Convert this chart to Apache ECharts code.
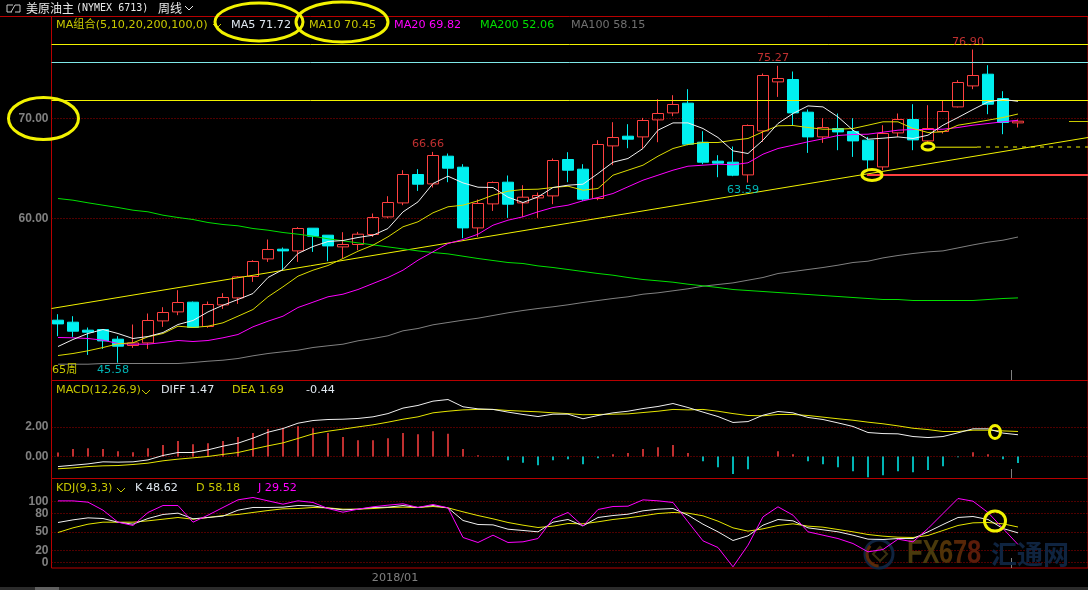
<!DOCTYPE html>
<html lang="zh-CN">
<head>
  <meta charset="UTF-8">
  <title>美原油主 周线</title>
  <script src="https://cdn.jsdelivr.net/npm/echarts@6/dist/echarts.min.js"></script>
  <style>
    html, body { margin: 0; padding: 0; background: #000; overflow: hidden; }
    #main { width: 1088px; height: 590px; }
  </style>
</head>
<body>
<div id="main"></div>
<script>
  // open, close, low, high
  var candles = [
    [49.83,49.46,48.23,50.43],[49.63,48.73,48.16,50.23],[48.83,48.63,46.36,49.10],[48.90,47.76,46.96,48.90],[47.93,47.23,45.58,48.23],
    [47.30,47.56,47.06,49.40],[47.56,49.80,46.96,50.50],[49.76,50.60,49.16,51.13],[50.66,51.60,50.33,52.83],[51.63,49.10,49.10,51.70],
    [49.20,51.40,49.07,51.70],[51.36,52.10,50.96,52.53],[52.06,54.16,51.46,54.23],[54.20,55.70,53.66,55.83],[55.96,56.90,55.66,57.90],
    [56.93,56.76,54.83,57.10],[56.76,59.00,55.66,59.13],[59.03,58.23,56.66,59.03],[58.33,57.26,55.73,58.33],[57.16,57.40,56.00,58.63],
    [57.40,58.43,56.83,58.66],[58.40,60.10,58.16,60.50],[60.16,61.60,60.03,62.23],[61.56,64.40,61.33,64.83],[64.40,63.43,62.76,64.93],
    [63.46,66.30,63.10,66.66],[66.23,65.03,63.63,66.50],[65.13,59.06,58.03,65.43],[59.06,61.50,58.16,61.90],[61.46,63.60,60.76,63.70],
    [63.63,61.43,60.06,64.30],[61.56,62.13,60.16,63.33],[62.06,62.30,60.06,62.60],[62.26,65.80,61.43,66.00],[65.90,64.83,63.63,66.63],
    [64.93,61.93,61.76,65.43],[62.00,67.40,61.83,67.83],[67.26,68.10,65.33,69.63],[68.23,67.93,67.03,69.43],[68.16,69.80,67.00,70.06],
    [69.86,70.50,67.63,71.93],[70.56,71.40,70.23,72.33],[71.53,67.43,67.33,72.93],[67.63,65.63,65.43,68.73],[65.73,65.53,64.13,66.33],
    [65.63,64.33,64.23,67.20],[64.36,69.30,63.59,69.40],[68.76,74.30,67.66,74.50],[73.66,74.00,72.16,75.27],[73.90,70.56,69.26,74.70],
    [70.63,68.16,66.56,70.90],[68.16,69.10,67.56,70.03],[69.00,68.66,66.83,70.50],[68.70,67.76,66.16,70.03],[67.83,65.86,64.83,68.16],
    [65.16,68.50,64.83,69.33],[68.56,69.90,68.16,70.50],[69.90,67.86,66.83,71.43],[67.76,69.00,67.66,71.33],[68.70,70.70,68.50,71.76],
    [71.16,73.60,71.10,73.83],[73.26,74.30,72.93,76.90],[74.43,71.43,70.43,75.33],[72.00,69.60,68.43,72.73],[69.56,69.73,69.10,69.90]
  ];

  var ma5 = [47.2,47.9,48.5,48.9,48.5,48.0,48.2,48.6,49.4,49.8,50.66,51.33,51.9,52.5,54.1,54.9,56.5,57.2,57.7,57.8,58.1,
    58.33,59.0,60.66,61.66,63.5,64.23,63.56,63.13,63.1,62.13,61.6,62.16,63.1,63.33,63.43,64.5,65.63,66.0,67.0,68.83,69.56,69.56,69.0,68.1,
    66.76,66.5,67.83,69.5,70.5,71.26,71.16,70.16,68.83,67.93,68.03,68.16,68.0,68.33,69.33,70.1,70.9,71.66,71.9,71.72];
  var ma10 = [46.3,46.5,46.77,47.1,47.47,47.57,48.17,48.5,49.23,49.1,49.23,49.57,50.23,50.9,52.17,53.17,54.23,54.83,55.3,56.0,56.73,
    57.33,58.17,59.17,59.67,60.57,61.17,61.33,61.77,62.33,62.73,62.9,62.93,63.1,63.23,62.83,63.0,64.33,64.83,65.33,66.23,67.0,67.4,67.6,67.6,
    67.83,68.0,68.67,69.27,69.3,69.1,68.93,68.93,69.0,69.33,69.67,69.67,69.0,68.6,68.67,69.33,69.57,69.83,70.1,70.45];
  var ma20 = [48.1,48.07,48.0,47.83,47.5,47.43,47.43,47.6,47.8,47.7,47.8,48.07,48.4,49.17,49.73,50.23,51.1,51.63,52.17,52.43,52.9,
    53.5,54.1,54.83,55.83,56.67,57.5,57.9,58.43,59.33,59.83,60.17,60.67,61.1,61.33,61.77,62.1,62.5,63.17,63.83,64.33,64.83,65.23,65.33,65.43,
    65.37,65.57,66.43,67.0,67.33,67.67,67.97,68.3,68.4,68.43,68.63,68.83,68.9,68.9,68.93,69.1,69.33,69.5,69.67,69.82];
  var ma200 = [62.0,61.83,61.57,61.33,61.1,60.83,60.67,60.33,60.1,59.9,59.6,59.4,59.27,59.0,58.83,58.6,58.43,58.23,57.97,57.77,57.56,
    57.36,57.16,56.96,56.76,56.6,56.46,56.23,56.0,55.8,55.6,55.5,55.26,55.1,54.9,54.7,54.5,54.33,54.1,53.9,53.77,53.63,53.43,53.27,53.1,
    52.9,52.8,52.7,52.6,52.5,52.4,52.3,52.2,52.1,52.0,51.9,51.9,51.8,51.8,51.8,51.8,51.8,51.9,52.0,52.06];
  var ma100 = [45.43,45.43,45.43,45.5,45.5,45.5,45.5,45.5,45.5,45.6,45.73,45.83,46.0,46.27,46.5,46.67,46.83,47.1,47.27,47.43,47.77,
    48.0,48.27,48.77,49.0,49.37,49.6,49.83,50.03,50.3,50.57,50.8,51.0,51.17,51.37,51.6,51.8,52.0,52.17,52.43,52.57,52.77,52.97,53.23,53.4,
    53.56,53.83,54.1,54.5,54.7,54.9,55.1,55.33,55.6,55.73,56.06,56.3,56.5,56.66,56.76,57.06,57.36,57.63,57.83,58.15];

  var macdBars = [0.27,0.5,0.56,0.5,0.36,0.29,0.56,0.77,1.04,0.83,0.9,1.04,1.31,1.58,1.85,1.89,2.05,1.91,1.58,1.31,1.1,
    1.1,1.24,1.58,1.51,1.71,1.53,0.5,0.09,0.02,-0.25,-0.43,-0.59,-0.25,-0.18,-0.52,-0.11,0.16,0.23,0.5,0.63,0.77,0.23,-0.32,-0.72,
    -1.19,-0.86,0.0,0.36,0.16,-0.32,-0.52,-0.72,-0.99,-1.4,-1.26,-0.99,-1.06,-0.92,-0.65,-0.05,0.29,0.16,-0.18,-0.44];
  var diff = [-0.68,-0.59,-0.5,-0.36,-0.38,-0.36,-0.23,0.07,0.27,0.27,0.45,0.7,0.9,1.24,1.64,1.89,2.25,2.43,2.5,2.52,2.57,
    2.68,2.9,3.27,3.45,3.74,3.85,3.36,3.22,3.18,3.0,2.84,2.7,2.86,2.86,2.55,2.77,2.95,3.06,3.24,3.38,3.58,3.31,3.0,2.7,
    2.3,2.36,2.79,3.04,2.95,2.64,2.5,2.27,2.03,1.62,1.55,1.53,1.35,1.28,1.35,1.6,1.87,1.87,1.58,1.47];
  var dea = [-0.83,-0.77,-0.68,-0.63,-0.61,-0.54,-0.45,-0.29,-0.18,-0.09,0.0,0.14,0.27,0.5,0.72,0.92,1.22,1.53,1.71,1.85,2.0,
    2.14,2.32,2.52,2.68,2.95,3.06,3.15,3.18,3.18,3.11,3.06,3.02,2.95,2.9,2.82,2.84,2.86,2.88,2.97,3.06,3.18,3.15,3.18,3.06,
    2.9,2.77,2.75,2.84,2.84,2.77,2.66,2.55,2.45,2.32,2.21,2.07,1.91,1.82,1.69,1.69,1.78,1.78,1.73,1.69];

  var kdjK = [65.6,69.9,73.2,72.1,66.1,62.8,72.1,78.7,80.9,71.6,73.8,76.0,85.8,90.2,90.2,90.7,93.4,92.9,89.1,86.3,87.4,
    90.2,90.7,93.4,90.2,93.4,89.6,68.9,62.3,61.7,54.6,52.5,50.3,66.1,70.5,60.1,73.8,77.0,79.2,84.7,87.4,88.5,77.6,62.8,50.3,
    36.1,43.7,61.2,70.5,68.3,56.8,53.6,50.3,44.8,38.3,37.7,39.3,39.3,50.3,62.3,73.8,75.4,70.5,55.7,48.62];
  var kdjD = [49.2,56.8,62.8,66.1,66.1,66.1,68.3,71.0,73.8,71.0,73.8,77.0,78.7,82.0,85.2,88.0,88.5,90.2,89.6,87.4,87.4,
    88.5,90.2,90.7,90.2,91.8,89.6,83.1,77.0,71.6,65.6,61.2,57.4,59.6,63.9,63.4,66.7,70.5,73.2,76.5,80.3,82.0,80.9,76.5,67.8,
    56.8,51.4,55.2,60.7,63.4,59.6,57.9,54.1,50.3,45.9,43.2,41.5,41.0,44.3,52.5,60.7,65.0,65.6,63.4,58.18];
  var kdjJ = [101,101,98.9,85.8,66.1,60.7,82.0,93.4,93.4,66.1,77.6,90.2,102.7,106.6,101.1,95.6,101.1,98.4,88.5,82.5,87.4,
    91.3,94.0,96.2,90.2,95.1,89.6,41.0,32.8,44.8,32.8,33.9,39.3,71.6,82.0,59.6,86.9,91.8,92.3,102.7,101.1,98.4,66.7,35.5,24.6,
    -7.1,28.4,74.9,91.3,77.6,50.3,44.8,39.3,31.1,17.5,21.3,38.3,33.9,55.7,80.3,104.9,100.5,82.0,55.7,29.52];

  // hand drawn levels on the main pane
  var upperLevel = 77.4, cyanLevel = 75.6, lowerLevel = 71.8;
  var trendLine = [[-0.4333, 51.0], [68.6667, 68.1]];
  var supportLine = [[53.93, 64.36], [68.6667, 64.36]];
  var shortLevel = [[58.47, 67.13], [61.27, 67.13]];
  var shortLevelDash = [[61.27, 67.15], [68.6667, 67.15]];
  var rightStub = [[67.4, 69.7], [68.6667, 69.7]];

  // [index, value]
  var highMarks = [[25, 66.66], [48, 75.27], [61, 76.90]];
  var lowMarks = [[4, 45.58], [46, 63.59]];

  var priceTicks = [60, 70];
  var macdTicks = [0, 2];
  var kdjTicks = [0, 20, 50, 80, 100];
  var dateTicks = [22.47];
  var dateLabels = ['2018/01'];

  var xMin = -0.4333, xMax = 68.6667;
  var RED = '#ff4040', CYAN = '#00f0f0', YELLOW = '#c8c800', PANE = '#b80000', GREY = '#808080';
  var cjk = '"Noto Sans CJK SC","Noto Sans",sans-serif';
  var latin = '"DejaVu Sans","Noto Sans CJK SC",sans-serif';

  function pts(arr) {
    return arr.map(function (v, i) { return [i, v]; });
  }
  function line(name, data, color, axisIndex, width, dash) {
    return {
      name: name, type: 'line', data: data, xAxisIndex: axisIndex, yAxisIndex: axisIndex,
      showSymbol: false, silent: true, animation: false, z: 5,
      lineStyle: { color: color, width: width || 1, type: dash || 'solid' }
    };
  }
  function xAxisFor(i) {
    return {
      gridIndex: i, type: 'value', min: xMin, max: xMax, splitLine: { show: false },
      axisLine: { show: false }, axisTick: { show: false },
      axisLabel: i === 2 ? {
        customValues: dateTicks, color: GREY, fontSize: 11.2, margin: 4, fontFamily: latin,
        formatter: function () { return dateLabels[0]; }
      } : { show: false }
    };
  }
  function yAxisFor(i, min, max, ticks, digits) {
    return {
      gridIndex: i, type: 'value', min: min, max: max,
      axisLine: { show: false },
      axisTick: { show: false, customValues: ticks },
      axisLabel: {
        customValues: ticks, color: GREY, fontSize: 12, fontWeight: 'bold', margin: 3,
        fontFamily: '"Liberation Sans",sans-serif', lineHeight: 12,
        formatter: function (v) { return v.toFixed(digits); }
      },
      splitLine: { show: true, lineStyle: { color: '#a00000', width: 1, type: [1, 2] } }
    };
  }

  function txt(text, x, y, color, font) {
    return {
      type: 'text', silent: true, z: 20,
      style: { x: x, y: y, text: text, fill: color, font: font || ('11.2px ' + latin), verticalAlign: 'middle' }
    };
  }
  function ring(cx, cy, rx, ry) {
    return {
      type: 'ellipse', silent: true, z: 30, shape: { cx: cx, cy: cy, rx: rx, ry: ry },
      style: { fill: null, stroke: '#f2f200', lineWidth: 3 }
    };
  }
  function chevron(x, y, color) {
    return {
      type: 'polyline', silent: true, z: 20,
      shape: { points: [[x, y], [x + 4, y + 4], [x + 8, y]] },
      style: { fill: null, stroke: color, lineWidth: 1 }
    };
  }
  function seg(x1, y1, x2, y2, color, w) {
    return {
      type: 'line', silent: true, z: 15, shape: { x1: x1, y1: y1, x2: x2, y2: y2 },
      style: { stroke: color, lineWidth: w || 1 }
    };
  }
  function fxPart(text, x, color) {
    return {
      type: 'text', silent: true, z: 1, scaleY: 1.3, originX: x, originY: 554,
      style: { x: x, y: 554, text: text, fill: color, font: 'bold 25.5px "Liberation Sans",sans-serif', verticalAlign: 'middle' }
    };
  }

  var graphics = [
    seg(0, 16.5, 52, 16.5, PANE),
    { type: 'polyline', silent: true, z: 20, shape: { points: [[13, 5], [7, 5], [7, 12], [12, 12]] }, style: { fill: null, stroke: '#c8c8c8', lineWidth: 1 } },
    { type: 'polyline', silent: true, z: 20, shape: { points: [[11, 12], [15, 5], [20, 5], [20, 12], [15, 12]] }, style: { fill: null, stroke: '#c8c8c8', lineWidth: 1 } },
    txt('美原油主', 26, 8, '#e8e8e8', '12px ' + cjk),
    txt('(NYMEX 6713)', 76, 8, '#e8e8e8', '10px "DejaVu Sans Mono",monospace'),
    txt('周线', 158, 8, '#e8e8e8', '12px ' + cjk),
    chevron(185, 6, '#e8e8e8'),

    txt('MA组合(5,10,20,200,100,0)', 56, 25.5, YELLOW),
    chevron(213, 24, YELLOW),
    txt('MA5 71.72', 231, 25.5, '#e0e8f0'),
    txt('MA10 70.45', 309, 25.5, YELLOW),
    txt('MA20 69.82', 394, 25.5, '#ff00ff'),
    txt('MA200 52.06', 480, 25.5, '#00e000'),
    txt('MA100 58.15', 571, 25.5, '#707070'),

    txt('65周', 52, 370, YELLOW),

    txt('MACD(12,26,9)', 56, 390, YELLOW),
    chevron(142, 390, YELLOW),
    txt('DIFF 1.47', 161, 390, '#e0e8f0'),
    txt('DEA 1.69', 232, 390, YELLOW),
    txt('-0.44', 306, 390, '#e0e8f0'),

    txt('KDJ(9,3,3)', 56, 488, YELLOW),
    chevron(117, 488, YELLOW),
    txt('K 48.62', 135, 488, '#e0e8f0'),
    txt('D 58.18', 196, 488, YELLOW),
    txt('J 29.52', 258, 488, '#ff00ff'),

    // yellow rings marked on the screenshot
    ring(259, 22, 44, 19),
    ring(342, 22, 46, 20),
    ring(43.5, 118.5, 35, 21),
    ring(872, 175, 10, 5.5),
    ring(928, 146.5, 6, 3.5),
    ring(995, 432, 5.5, 6.5),
    ring(995, 521, 10.5, 10),

    // cursor stubs
    seg(1011.5, 370, 1011.5, 380, GREY),
    seg(1011.5, 469, 1011.5, 478, GREY),
    seg(1011.5, 558, 1011.5, 568, GREY),

    // watermark
    { type: 'circle', silent: true, z: 1, shape: { cx: 879, cy: 554, r: 14 }, style: { fill: null, stroke: '#0f2440', lineWidth: 3 } },
    { type: 'arc', silent: true, z: 1, shape: { cx: 879, cy: 554, r: 12, startAngle: 1.6, endAngle: 3.9 }, style: { fill: null, stroke: '#5a2a08', lineWidth: 3 } },
    { type: 'polygon', silent: true, z: 1, shape: { points: [[880, 547], [887, 554], [880, 561], [873, 554]] }, style: { fill: null, stroke: '#3a3010', lineWidth: 2 } },
    fxPart('FX', 907, '#4a3a0c'),
    fxPart('6', 939, '#503208'),
    fxPart('7', 953, '#562608'),
    fxPart('8', 967, '#5c1c0a'),
    txt('汇通网', 991, 554, '#0f2440', 'bold 26px ' + cjk),

    // scrollbar strip
    { type: 'rect', silent: true, z: 1, shape: { x: 0, y: 587, width: 1088, height: 3 }, style: { fill: '#2b2b2b' } },
    { type: 'rect', silent: true, z: 2, shape: { x: 35, y: 587, width: 24, height: 3 }, style: { fill: '#606060' } }
  ];

  var markLabel = function (p) { return p.value[1].toFixed(2); };

  var option = {
    backgroundColor: '#000',
    animation: false,
    textStyle: { fontFamily: latin },
    grid: [
      { left: 51.5, top: 16.5, width: 1036.5, height: 364, show: true, borderColor: PANE, borderWidth: 1, backgroundColor: 'transparent' },
      { left: 51.5, top: 380.5, width: 1036.5, height: 98, show: true, borderColor: PANE, borderWidth: 1, backgroundColor: 'transparent' },
      { left: 51.5, top: 478.5, width: 1036.5, height: 89.5, show: true, borderColor: PANE, borderWidth: 1, backgroundColor: 'transparent' }
    ],
    xAxis: [xAxisFor(0), xAxisFor(1), xAxisFor(2)],
    yAxis: [
      yAxisFor(0, 43.8, 80.2, priceTicks, 2),
      yAxisFor(1, -1.486, 5.135, macdTicks, 2),
      yAxisFor(2, -9, 137.7, kdjTicks, 0)
    ],
    series: [
      {
        name: 'K', type: 'candlestick', xAxisIndex: 0, yAxisIndex: 0, barWidth: 12, silent: true, z: 3,
        data: candles.map(function (c, i) { return [i, c[0], c[1], c[2], c[3]]; }),
        itemStyle: { color: 'rgba(0,0,0,0)', color0: CYAN, borderColor: RED, borderColor0: CYAN, borderWidth: 1 }
      },
      line('upper', [[xMin, upperLevel], [xMax, upperLevel]], '#f2f200', 0),
      line('cyan', [[xMin, cyanLevel], [xMax, cyanLevel]], '#7fe8e8', 0),
      line('lower', [[xMin, lowerLevel], [xMax, lowerLevel]], '#f2f200', 0),
      line('trend', trendLine, '#f2f200', 0),
      line('support', supportLine, RED, 0, 2),
      line('short', shortLevel, '#f2f200', 0),
      line('shortDash', shortLevelDash, '#f2f200', 0, 1, [4, 5]),
      line('stub', rightStub, '#c8c800', 0),
      line('MA100', pts(ma100), GREY, 0),
      line('MA200', pts(ma200), '#00e000', 0),
      line('MA20', pts(ma20), '#ff00ff', 0),
      line('MA10', pts(ma10), '#dcdc00', 0),
      line('MA5', pts(ma5), '#f0f0f0', 0),
      {
        name: 'highs', type: 'scatter', xAxisIndex: 0, yAxisIndex: 0, symbolSize: 0, silent: true, z: 6, data: highMarks,
        label: { show: true, position: 'top', distance: 2, offset: [-5, 0], color: '#f03c3c', fontSize: 11.2, formatter: markLabel }
      },
      {
        name: 'lows', type: 'scatter', xAxisIndex: 0, yAxisIndex: 0, symbolSize: 0, silent: true, z: 6, data: lowMarks,
        label: { show: true, position: 'bottom', distance: 2, offset: [-5, 0], color: '#00e0e0', fontSize: 11.2, formatter: markLabel }
      },

      {
        name: 'MACD', type: 'bar', xAxisIndex: 1, yAxisIndex: 1, barWidth: 1.5, silent: true, z: 3,
        data: pts(macdBars),
        itemStyle: { color: function (p) { return p.value[1] >= 0 ? RED : CYAN; } }
      },
      line('DEA', pts(dea), '#e6e600', 1),
      line('DIFF', pts(diff), '#f0f0f0', 1),

      line('D', pts(kdjD), '#e6e600', 2),
      line('K', pts(kdjK), '#f0f0f0', 2),
      line('J', pts(kdjJ), '#ff00ff', 2)
    ],
    graphic: graphics
  };

  var chart = echarts.init(document.getElementById('main'));
  chart.setOption(option);
</script>
</body>
</html>
